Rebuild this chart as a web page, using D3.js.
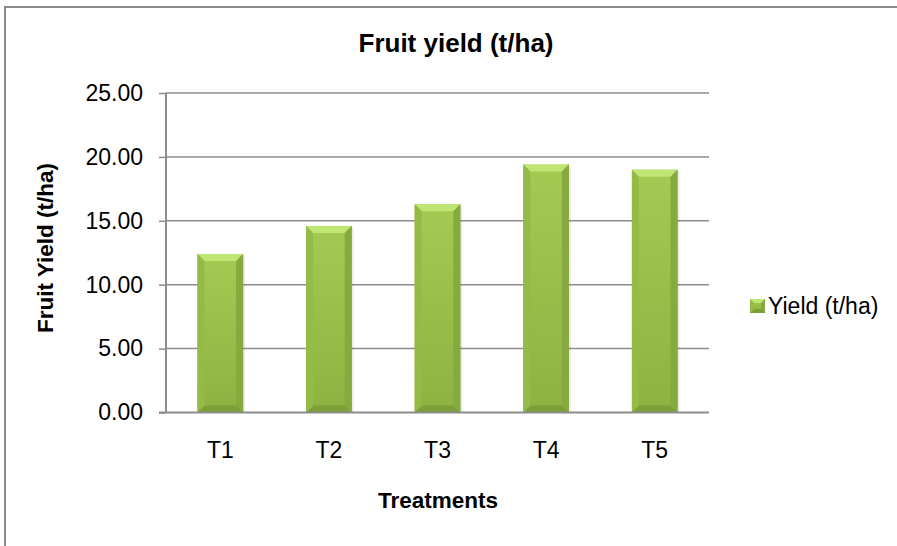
<!DOCTYPE html>
<html>
<head>
<meta charset="utf-8">
<script src="https://cdn.jsdelivr.net/npm/d3@7"></script>
<style>
  html, body { margin: 0; padding: 0; background: #fff; }
  svg { display: block; }
  text { font-family: "Liberation Sans", Arial, sans-serif; fill: #000; }
</style>
</head>
<body>
<svg id="chart" width="897" height="546"></svg>
<script>
const categories = ["T1", "T2", "T3", "T4", "T5"];
const yieldValues = [12.4, 14.6, 16.3, 19.4, 19.0];
const yTicks = [0, 5, 10, 15, 20, 25];
const seriesName = "Yield (t/ha)";
const chartTitle = "Fruit yield (t/ha)";
const xTitle = "Treatments";
const yTitle = "Fruit Yield (t/ha)";

const svg = d3.select("#chart");
const W = 897, H = 546;
const plot = { left: 166, right: 709, top: 93, bottom: 412.5 };

// outer border (left + top visible)
svg.append("path")
  .attr("d", `M5,${H} L5,7 L${W},7`)
  .attr("fill", "none").attr("stroke", "#8a8a8a").attr("stroke-width", 2);

const defs = svg.append("defs");
const g1 = defs.append("linearGradient").attr("id", "barBody").attr("x1", 0).attr("y1", 0).attr("x2", 0).attr("y2", 1);
g1.append("stop").attr("offset", "0%").attr("stop-color", "#a3cb52");
g1.append("stop").attr("offset", "100%").attr("stop-color", "#8db242");
const g2 = defs.append("linearGradient").attr("id", "barSide").attr("x1", 0).attr("y1", 0).attr("x2", 1).attr("y2", 0);
g2.append("stop").attr("offset", "0%").attr("stop-color", "#000").attr("stop-opacity", 0.10);
g2.append("stop").attr("offset", "12%").attr("stop-color", "#000").attr("stop-opacity", 0.0);
g2.append("stop").attr("offset", "88%").attr("stop-color", "#000").attr("stop-opacity", 0.0);
g2.append("stop").attr("offset", "100%").attr("stop-color", "#000").attr("stop-opacity", 0.14);

const x = d3.scaleBand().domain(categories).range([plot.left, plot.right]).padding(0);
const y = d3.scaleLinear().domain([0, 25]).range([plot.bottom, plot.top]);
const barW = x.bandwidth() * 0.42;

// gridlines
svg.append("g").selectAll("line").data(yTicks.filter(d => d > 0)).join("line")
  .attr("x1", plot.left).attr("x2", plot.right)
  .attr("y1", d => y(d)).attr("y2", d => y(d))
  .attr("stroke", "#8c8c8c").attr("stroke-width", 1.5);

// bars
const bars = svg.append("g").selectAll("g").data(categories.map((c, i) => ({ c, v: yieldValues[i] }))).join("g");
function drawBar(sel, bx, by, bw, bh, b, shadow) {
  if (shadow) {
    sel.append("rect").attr("x", bx + 2).attr("y", by + 2).attr("width", bw).attr("height", bh - 2)
      .attr("fill", "#000").attr("opacity", 0.08);
  }
  sel.append("rect").attr("x", bx).attr("y", by).attr("width", bw).attr("height", bh).attr("fill", "url(#barBody)");
  sel.append("rect").attr("x", bx).attr("y", by).attr("width", bw).attr("height", bh).attr("fill", "url(#barSide)");
  // top bevel
  sel.append("path").attr("d", `M${bx},${by} L${bx + bw},${by} L${bx + bw - b},${by + b} L${bx + b},${by + b} Z`)
    .attr("fill", "#bfe573");
  // bottom bevel
  sel.append("path").attr("d", `M${bx},${by + bh} L${bx + bw},${by + bh} L${bx + bw - b},${by + bh - b} L${bx + b},${by + bh - b} Z`)
    .attr("fill", "#7d9f37");
  // left / right bevel
  sel.append("path").attr("d", `M${bx},${by} L${bx + b},${by + b} L${bx + b},${by + bh - b} L${bx},${by + bh} Z`)
    .attr("fill", "#94bb46");
  sel.append("path").attr("d", `M${bx + bw},${by} L${bx + bw - b},${by + b} L${bx + bw - b},${by + bh - b} L${bx + bw},${by + bh} Z`)
    .attr("fill", "#86aa3d");
}
bars.each(function (d) {
  const bx = x(d.c) + (x.bandwidth() - barW) / 2;
  const by = y(d.v);
  const bh = y(0) - y(d.v);
  drawBar(d3.select(this), bx, by, barW, bh, 7, true);
});

// y axis
const yAxis = svg.append("g").attr("transform", `translate(${plot.left},0)`)
  .call(d3.axisLeft(y).tickValues(yTicks).tickFormat(d3.format(".2f")).tickSize(7).tickPadding(16));
yAxis.select(".domain").attr("stroke", "#8c8c8c").attr("stroke-width", 2).attr("d", `M0,${plot.top}V${plot.bottom}`);
yAxis.selectAll(".tick line").attr("stroke", "#8c8c8c").attr("stroke-width", 1.5);
yAxis.selectAll(".tick text").style("font-size", "23px").style("font-family", "'Liberation Sans', Arial, sans-serif").attr("fill", "#000");

// x axis
const xAxis = svg.append("g").attr("transform", `translate(0,${plot.bottom})`)
  .call(d3.axisBottom(x).tickSize(0).tickPadding(29));
xAxis.select(".domain").attr("stroke", "#8c8c8c").attr("stroke-width", 2).attr("d", `M${plot.left - 7},0H${plot.right}`);
xAxis.selectAll(".tick text").style("font-size", "23px").style("font-family", "'Liberation Sans', Arial, sans-serif").attr("fill", "#000");

// titles
svg.append("text").attr("x", 456).attr("y", 52).attr("text-anchor", "middle")
  .style("font-size", "26px").style("font-weight", "bold").text(chartTitle);
svg.append("text").attr("x", 438).attr("y", 508).attr("text-anchor", "middle")
  .style("font-size", "22.5px").style("font-weight", "bold").text(xTitle);
svg.append("text").attr("transform", "translate(53,248) rotate(-90)").attr("text-anchor", "middle")
  .style("font-size", "22.5px").style("font-weight", "bold").text(yTitle);

// legend
const lg = svg.append("g");
drawBar(lg, 750, 299, 15, 14, 4, false);
svg.append("text").attr("x", 768).attr("y", 314).style("font-size", "23px").text(seriesName);
</script>
</body>
</html>
